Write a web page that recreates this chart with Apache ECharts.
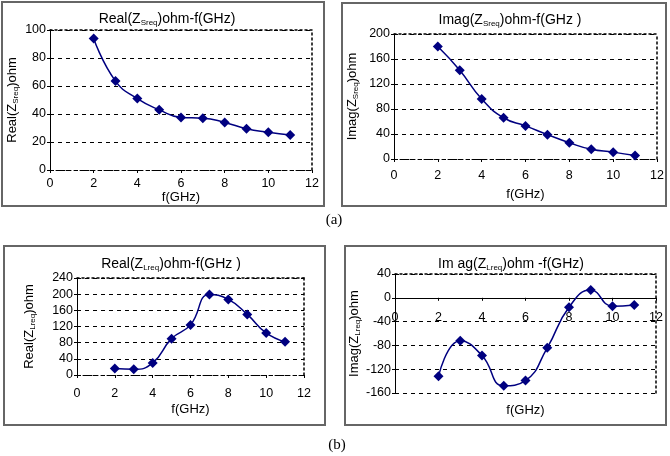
<!DOCTYPE html>
<html>
<head>
  <meta charset="utf-8">
  <title>Impedance vs frequency</title>
  <script src="https://cdn.jsdelivr.net/npm/echarts@6/dist/echarts.min.js"></script>
  <style>
    body { margin: 0; background: #fff; }
  </style>
</head>
<body>
  <div id="main" style="width: 670px;height:456px;"></div>
  <script type="text/javascript">
    // data
    var freq = [2, 3, 4, 5, 6, 7, 8, 9, 10, 11];
    var realS = [94, 63.5, 51, 43, 37.5, 37, 34, 29.5, 27, 25];
    var imagS = [180, 142, 96, 66, 53, 39, 26, 15.5, 11, 5.5];
    var realL = [16, 14, 30, 90, 124, 199, 187, 150, 104, 82];
    var imagL = [-132, -72, -97, -148, -139, -84, -16, 13, -14, -12];

    var myChart = echarts.init(document.getElementById('main'));

    var FONT = 'Liberation Sans, Arial, sans-serif';
    var navy = '#000080';

    function pairs(ys) {
      return freq.map(function (f, i) { return [f, ys[i]]; });
    }

    var richText = {
      sub: { fontSize: 8, fontFamily: FONT, color: '#000', verticalAlign: 'bottom', padding: [8, 0, 0, 0] }
    };

    // panel layout (grid boxes)
    var panels = [
      { grid: { left: 50, top: 30, width: 262, height: 140 }, title: 'Real(Z{sub|Sreq})ohm-f(GHz)', tx: 162, ty: 6,
        yName: 'Real(Z{sub|Sreq})ohm', yGap: 30, min: 0, max: 100, step: 20, data: realS, xGap: 19, xMargin: 7 },
      { grid: { left: 394, top: 34, width: 263, height: 125 }, title: 'Imag(Z{sub|Sreq})ohm-f(GHz )', tx: 505, ty: 7,
        yName: 'Imag(Z{sub|Sreq})ohm', yGap: 34, min: 0, max: 200, step: 40, data: imagS, xGap: 29, xMargin: 10 },
      { grid: { left: 77, top: 278, width: 227, height: 97 }, title: 'Real(Z{sub|Lreq})ohm-f(GHz )', tx: 166, ty: 251,
        yName: 'Real(Z{sub|Lreq})ohm', yGap: 40, min: 0, max: 240, step: 40, data: realL, xGap: 28, xMargin: 12 },
      { grid: { left: 395, top: 274, width: 261, height: 119 }, title: 'Im ag(Z{sub|Lreq})ohm -f(GHz)', tx: 506, ty: 251,
        yName: 'Imag(Z{sub|Lreq})ohm', yGap: 30, min: -160, max: 40, step: 40, data: imagL, xGap: 106, xMargin: 13 }
    ];

    var option = {
      animation: false,
      textStyle: { fontFamily: FONT },
      title: [],
      grid: [],
      xAxis: [],
      yAxis: [],
      series: [],
      graphic: [
        { type: 'rect', shape: { x: 2, y: 2, width: 322, height: 204 }, style: { fill: 'none', stroke: '#666', lineWidth: 2 }, silent: true },
        { type: 'rect', shape: { x: 342, y: 3, width: 324, height: 203 }, style: { fill: 'none', stroke: '#666', lineWidth: 2 }, silent: true },
        { type: 'rect', shape: { x: 4, y: 246, width: 321, height: 179 }, style: { fill: 'none', stroke: '#666', lineWidth: 2 }, silent: true },
        { type: 'rect', shape: { x: 345, y: 246, width: 321, height: 179 }, style: { fill: 'none', stroke: '#666', lineWidth: 2 }, silent: true },
        { type: 'text', x: 334, y: 220, style: { text: '(a)', font: '15px Liberation Serif', fill: '#000', textAlign: 'center', textVerticalAlign: 'middle' } },
        { type: 'text', x: 337, y: 445, style: { text: '(b)', font: '15px Liberation Serif', fill: '#000', textAlign: 'center', textVerticalAlign: 'middle' } }
      ]
    };

    panels.forEach(function (p, i) {
      option.title.push({
        text: p.title, left: p.tx, top: p.ty, textAlign: 'center',
        textStyle: { fontSize: 14, fontWeight: 'normal', color: '#000', fontFamily: FONT, rich: richText }
      });
      var g = p.grid;
      g.outerBoundsMode = 'none';
      g.containLabel = false;
      option.grid.push(g);
      // last panel: x axis sits on the zero line of y
      var zeroShift = 0;
      if (p.min < 0) {
        zeroShift = -g.height * (0 - p.min) / (p.max - p.min);
      }
      option.xAxis.push({
        type: 'value', gridIndex: i, min: 0, max: 12, interval: 2,
        offset: zeroShift,
        name: 'f(GHz)', nameLocation: 'middle', nameGap: p.xGap,
        nameTextStyle: { fontSize: 13, color: '#000', fontFamily: FONT },
        axisLine: { onZero: false, lineStyle: { color: '#000', width: 1, type: p.min < 0 ? 'solid' : [3, 3] } },
        axisTick: { show: true, length: 3, lineStyle: { color: '#000' } },
        axisLabel: { fontSize: 12.5, color: '#000', margin: p.xMargin, fontFamily: FONT },
        splitLine: { show: false }
      });
      option.yAxis.push({
        type: 'value', gridIndex: i, min: p.min, max: p.max, interval: p.step,
        name: p.yName, nameLocation: 'middle', nameGap: p.yGap, nameRotate: 90,
        nameTextStyle: { fontSize: 13, color: '#000', fontFamily: FONT, rich: richText },
        axisLine: { show: true, lineStyle: { color: '#000', width: 1 } },
        axisTick: { show: true, length: 3, lineStyle: { color: '#000' } },
        axisLabel: { fontSize: 12.5, color: '#000', margin: 4, fontFamily: FONT },
        splitLine: { show: true, lineStyle: { color: '#000', width: 1, type: [4, 4] } }
      });
    });

    // dotted plot-area border on top and right
    panels.forEach(function (p, i) {
      option.xAxis.push({
        type: 'value', gridIndex: i, position: 'top', min: 0, max: 12,
        axisLine: { show: true, onZero: false, lineStyle: { color: '#000', width: 1.5, type: [2, 3] } },
        axisTick: { show: false }, axisLabel: { show: false }, splitLine: { show: false }
      });
      option.yAxis.push({
        type: 'value', gridIndex: i, position: 'right', min: p.min, max: p.max,
        axisLine: { show: true, onZero: false, lineStyle: { color: '#000', width: 1.5, type: [2, 3] } },
        axisTick: { show: false }, axisLabel: { show: false }, splitLine: { show: false }
      });
    });

    panels.forEach(function (p, i) {
      option.series.push({
        type: 'line', xAxisIndex: i, yAxisIndex: i,
        data: pairs(p.data),
        smooth: true,
        symbol: 'diamond', symbolSize: 10,
        lineStyle: { color: navy, width: 1.5 },
        itemStyle: { color: navy }
      });
    });

    myChart.setOption(option);
  </script>
</body>
</html>
